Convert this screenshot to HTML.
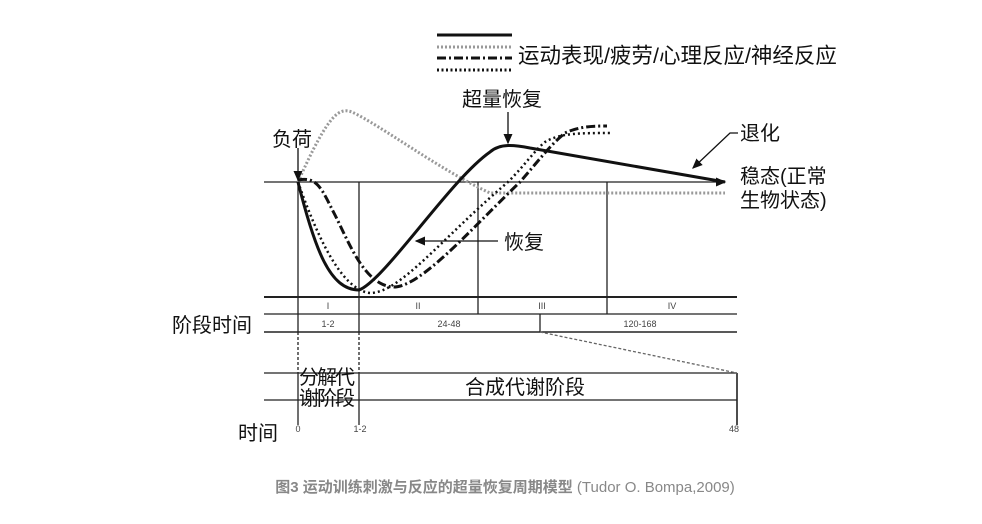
<!DOCTYPE html>
<html><head><meta charset="utf-8"><style>
body{margin:0;background:#fff;}
svg{display:block;font-family:"Liberation Sans","Noto Sans CJK SC",sans-serif;}
</style></head><body>
<svg width="982" height="524" viewBox="0 0 982 524" xmlns="http://www.w3.org/2000/svg">
<defs><marker id="ar" markerWidth="8" markerHeight="8" refX="7" refY="4" orient="auto"><path d="M0,0.5 L8,4 L0,7.5z" fill="#111"/></marker></defs>
<g stroke="#111" fill="none">
<line x1="437" y1="35" x2="512" y2="35" stroke-width="3"/>
<line x1="437" y1="47" x2="512" y2="47" stroke="#999" stroke-width="3" stroke-dasharray="2,2"/>
<line x1="437" y1="58" x2="512" y2="58" stroke-width="3" stroke-dasharray="9,3,2,3"/>
<line x1="437" y1="70" x2="512" y2="70" stroke-width="3" stroke-dasharray="2,2.5"/>
</g>
<text x="518" y="63" font-size="21.5" fill="#111">运动表现/疲劳/心理反应/神经反应</text>
<g stroke="#222" stroke-width="1.3" fill="none">
<line x1="264" y1="182" x2="725" y2="182" marker-end="url(#ar)"/>
<line x1="298" y1="182" x2="298" y2="332"/>
<line x1="359" y1="182" x2="359" y2="332"/>
<line x1="478" y1="182" x2="478" y2="314"/>
<line x1="607" y1="182" x2="607" y2="314"/>
<line x1="540" y1="314" x2="540" y2="332"/>
<line x1="264" y1="297" x2="737" y2="297" stroke-width="2"/>
<line x1="264" y1="314" x2="737" y2="314"/>
<line x1="264" y1="332" x2="737" y2="332" stroke-width="1.6"/>
<line x1="264" y1="373" x2="737" y2="373"/>
<line x1="264" y1="400" x2="737" y2="400"/>
<line x1="298" y1="373" x2="298" y2="425"/>
<line x1="359" y1="373" x2="359" y2="425"/>
<line x1="737" y1="373" x2="737" y2="425" stroke-width="1.6"/>
<line x1="298" y1="332" x2="298" y2="373" stroke-dasharray="3,2"/>
<line x1="359" y1="332" x2="359" y2="373" stroke-dasharray="3,2"/>
<line x1="540" y1="332" x2="737" y2="373" stroke="#666" stroke-dasharray="3,2"/>
</g>
<g font-size="9" fill="#444" text-anchor="middle">
<text x="328" y="309">I</text><text x="418" y="309">II</text><text x="542" y="309">III</text><text x="672" y="309">IV</text>
<text x="328" y="327">1-2</text><text x="449" y="327">24-48</text><text x="640" y="327">120-168</text>
<text x="298" y="432">0</text><text x="360" y="432">1-2</text><text x="734" y="432">48</text>
</g>
<g fill="none">
<path d="M298,182 C330,110 340,108 352,112 C380,125 440,170 490,193 L725,193" stroke="#999" stroke-width="3" stroke-dasharray="2,2"/>
<path d="M298,182 C315,230 340,290 370,293 C400,293 440,240 508,182 C525,165 535,150 545,142 C560,133 580,133 612,133" stroke="#111" stroke-width="2.5" stroke-dasharray="2,3"/>
<path d="M298,180 C318,176 322,190 335,215 C350,245 365,285 393,287 C420,288 470,230 520,182 C535,165 550,145 565,133 C580,126 595,126 607,126" stroke="#111" stroke-width="3" stroke-dasharray="9,3,2,3"/>
<path d="M298,182 C315,250 330,290 359,290 C385,280 450,180 490,152 C500,143 515,145 530,148 L725,182" stroke="#111" stroke-width="3"/>
</g>
<g stroke="#111" stroke-width="1.3" fill="none">
<line x1="298" y1="148" x2="298" y2="180" marker-end="url(#ar)"/>
<line x1="508" y1="112" x2="508" y2="143" marker-end="url(#ar)"/>
<polyline points="738,133 730,133 693,168" marker-end="url(#ar)"/>
<line x1="498" y1="241" x2="416" y2="241" marker-end="url(#ar)"/>
</g>
<g font-size="20" fill="#111">
<text x="272" y="146">负荷</text>
<text x="462" y="106">超量恢复</text>
<text x="740" y="140">退化</text>
<text x="740" y="183">稳态(正常</text>
<text x="740" y="207">生物状态)</text>
<text x="504" y="249">恢复</text>
<text x="172" y="332">阶段时间</text>
<text x="238" y="440">时间</text>
<text x="465" y="394">合成代谢阶段</text>
<text x="299" y="384" letter-spacing="-2">分解代</text>
<text x="299" y="405" letter-spacing="-2">谢阶段</text>
</g>
<text x="505" y="492" font-size="15" fill="#888" text-anchor="middle"><tspan font-weight="bold">图3 运动训练刺激与反应的超量恢复周期模型</tspan> (Tudor O. Bompa,2009)</text>
</svg>
</body></html>
